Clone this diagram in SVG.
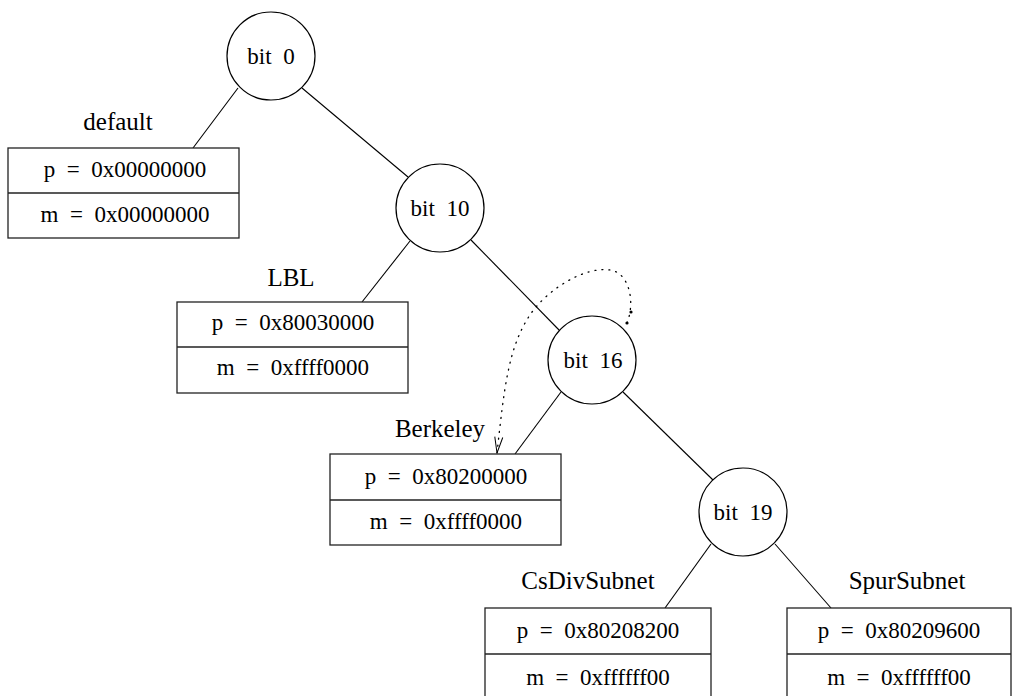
<svg xmlns="http://www.w3.org/2000/svg" width="1013" height="696" viewBox="0 0 1013 696">
<style>
text{font-family:"Liberation Serif","Times New Roman",serif;fill:#000;text-anchor:middle}
.n{font-size:23px}
.l{font-size:25px}
.b{font-size:23px}
circle{fill:#fff;stroke:#000;stroke-width:1.2}
rect{fill:#fff;stroke:#222;stroke-width:1.3}
.e{stroke:#000;stroke-width:1.1;fill:none}
.d{stroke:#000;stroke-width:1.3;fill:none;stroke-dasharray:1 6;stroke-linecap:round}
</style>
<defs>
<marker id="ah" viewBox="0 0 18 10" refX="17" refY="5" markerWidth="18" markerHeight="10" markerUnits="userSpaceOnUse" orient="auto">
<path d="M1,1 L17,5 L1,9" fill="none" stroke="#000" stroke-width="1"/>
</marker>
</defs>
<g id="connectors">
<line class="e" x1="238" y1="88" x2="193" y2="148"/>
<line class="e" x1="302" y1="88" x2="408" y2="177"/>
<line class="e" x1="410" y1="241" x2="362" y2="302"/>
<line class="e" x1="471" y1="240" x2="560" y2="331"/>
<line class="e" x1="561" y1="392" x2="515" y2="454"/>
<line class="e" x1="623" y1="392" x2="713" y2="480"/>
<line class="e" x1="711" y1="544" x2="665" y2="608"/>
<line class="e" x1="775" y1="544" x2="831" y2="608"/>
<path class="d" d="M627,323 C636,300 628,272 610,270 C585,266 545,290 528,318 C508,350 504,390 497,453" marker-end="url(#ah)"/>
<circle cx="627" cy="323" r="1.6" style="fill:#000;stroke:none"/>
<circle cx="631" cy="312" r="1.6" style="fill:#000;stroke:none"/>
</g>
<g id="bit0"><circle cx="271" cy="56" r="44"/><text class="n" x="271" y="64" xml:space="preserve">bit  0</text></g>
<g id="bit10"><circle cx="440" cy="208" r="44"/><text class="n" x="440" y="216" xml:space="preserve">bit  10</text></g>
<g id="bit16"><circle cx="592" cy="360" r="44"/><text class="n" x="593" y="368" xml:space="preserve">bit  16</text></g>
<g id="bit19"><circle cx="743" cy="512" r="44"/><text class="n" x="743" y="520" xml:space="preserve">bit  19</text></g>
<g id="default">
<text class="l" x="118" y="130">default</text>
<rect x="8" y="148" width="231" height="90"/><line x1="8" y1="193" x2="239" y2="193" stroke="#222" stroke-width="1.3"/>
<text class="b" x="125" y="177" xml:space="preserve">p  =  0x00000000</text>
<text class="b" x="125" y="222" xml:space="preserve">m  =  0x00000000</text>
</g>
<g id="LBL">
<text class="l" x="291" y="286">LBL</text>
<rect x="177" y="302" width="231" height="91"/><line x1="177" y1="347" x2="408" y2="347" stroke="#222" stroke-width="1.3"/>
<text class="b" x="293" y="330" xml:space="preserve">p  =  0x80030000</text>
<text class="b" x="293" y="375" xml:space="preserve">m  =  0xffff0000</text>
</g>
<g id="Berkeley">
<text class="l" x="440" y="437">Berkeley</text>
<rect x="330" y="454" width="231" height="91"/><line x1="330" y1="500" x2="561" y2="500" stroke="#222" stroke-width="1.3"/>
<text class="b" x="446" y="484" xml:space="preserve">p  =  0x80200000</text>
<text class="b" x="446" y="529" xml:space="preserve">m  =  0xffff0000</text>
</g>
<g id="CsDivSubnet">
<text class="l" x="588" y="589">CsDivSubnet</text>
<rect x="485" y="608" width="226" height="100"/><line x1="485" y1="654" x2="711" y2="654" stroke="#222" stroke-width="1.3"/>
<text class="b" x="598" y="638" xml:space="preserve">p  =  0x80208200</text>
<text class="b" x="598" y="685" xml:space="preserve">m  =  0xffffff00</text>
</g>
<g id="SpurSubnet">
<text class="l" x="907" y="589">SpurSubnet</text>
<rect x="787" y="608" width="224" height="100"/><line x1="787" y1="654" x2="1011" y2="654" stroke="#222" stroke-width="1.3"/>
<text class="b" x="899" y="638" xml:space="preserve">p  =  0x80209600</text>
<text class="b" x="899" y="685" xml:space="preserve">m  =  0xffffff00</text>
</g>
</svg>
